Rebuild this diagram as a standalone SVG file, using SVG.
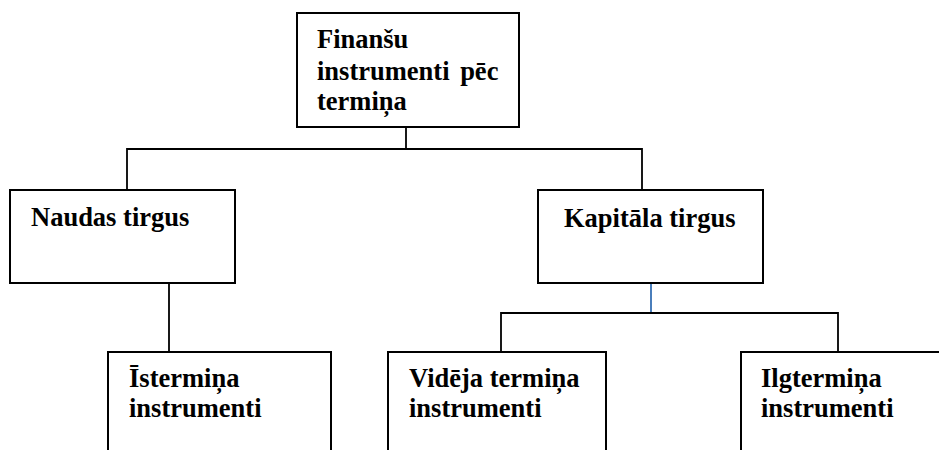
<svg xmlns="http://www.w3.org/2000/svg" width="939" height="450" viewBox="0 0 939 450">
  <style>
    .box { fill: #ffffff; stroke: #000000; stroke-width: 2; }
    .lbl { font-family: "Liberation Serif", "Times New Roman", serif; font-weight: bold; font-size: 26.5px; fill: #000000; }
    .wire { fill: none; stroke: #000000; stroke-width: 1.8; }
    .wire-blue { fill: none; stroke: #4a7ebb; stroke-width: 2; }
  </style>
  <rect width="939" height="450" fill="#ffffff"/>

  <!-- connectors -->
  <g id="connectors">
    <path class="wire" d="M406 127 V149"/>
    <path class="wire" d="M127 190 V149 H642 V190"/>
    <path class="wire" d="M169 283 V352"/>
    <path class="wire-blue" d="M651 283 V313"/>
    <path class="wire" d="M501 352 V313 H838 V352"/>
  </g>

  <!-- root -->
  <g id="root">
    <rect class="box" x="297" y="13" width="222" height="114"/>
    <text class="lbl" x="317" y="48">Finanšu</text>
    <text class="lbl" x="317" y="80" word-spacing="4">instrumenti pēc</text>
    <text class="lbl" x="317" y="110">termiņa</text>
  </g>

  <g id="naudas">
    <rect class="box" x="10" y="190" width="225" height="93"/>
    <text class="lbl" x="31" y="226">Naudas tirgus</text>
  </g>

  <g id="kapitala">
    <rect class="box" x="538" y="190" width="225" height="93"/>
    <text class="lbl" x="564" y="227">Kapitāla tirgus</text>
  </g>

  <g id="istermina">
    <rect class="box" x="108" y="352" width="223" height="110"/>
    <text class="lbl" x="129" y="387">Īstermiņa</text>
    <text class="lbl" x="129" y="417">instrumenti</text>
  </g>

  <g id="videja">
    <rect class="box" x="388" y="352" width="218" height="110"/>
    <text class="lbl" x="409" y="387">Vidēja termiņa</text>
    <text class="lbl" x="409" y="417">instrumenti</text>
  </g>

  <g id="ilgtermina">
    <rect class="box" x="741" y="352" width="220" height="110"/>
    <text class="lbl" x="761" y="387">Ilgtermiņa</text>
    <text class="lbl" x="761" y="417">instrumenti</text>
  </g>
</svg>
